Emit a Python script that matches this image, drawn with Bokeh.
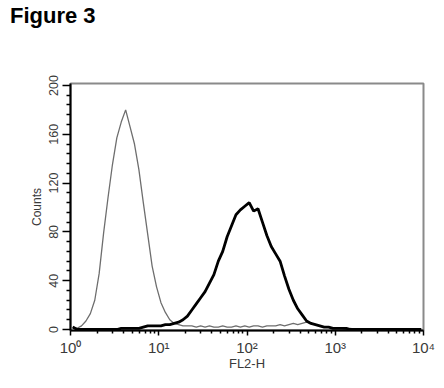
import numpy as np
from bokeh.plotting import figure
from bokeh.models import FixedTicker, Range1d, Div
from bokeh.layouts import column
from bokeh.embed import file_html
from bokeh.resources import INLINE

# Histogram channels: 80 bins, each 0.05 decade wide, from 10^0 to 10^4
bin_width_decades = 0.05
control_counts = [2, 1, 3, 7, 13, 24, 46, 79, 108, 135,
                  157, 170, 180, 166, 152, 131, 104, 78, 52, 35,
                  22, 14, 8, 5, 4, 3, 3, 3, 2, 3,
                  2, 3, 2, 2, 3, 2, 2, 3, 2, 3,
                  2, 3, 3, 2, 3, 3, 3, 4, 3, 4,
                  5, 4, 5, 6, 5, 4, 3, 2, 2, 1,
                  1, 1, 0, 1, 0, 0, 0, 0, 0, 0,
                  0, 0, 0, 0, 0, 0, 0, 0, 0, 0]
stained_counts = [2, 0, 0, 0, 0, 0, 0, 0, 0, 0,
                  0, 1, 1, 1, 1, 1, 2, 3, 3, 3,
                  3, 4, 4, 5, 6, 8, 11, 16, 21, 26,
                  31, 38, 45, 56, 64, 76, 85, 94, 98, 101,
                  104, 97, 99, 88, 77, 68, 62, 56, 44, 33,
                  24, 17, 12, 7, 5, 4, 3, 2, 2, 1,
                  1, 1, 1, 0, 0, 0, 0, 0, 0, 0,
                  0, 0, 0, 0, 0, 0, 0, 0, 0, 0]
x_major_ticks = [1, 10, 100, 1000, 10000]
x_tick_labels = ["10\u2070", "10\u00b9", "10\u00b2", "10\u00b3", "10\u2074"]
y_major_ticks = [0, 40, 80, 120, 160, 200]
y_minor_step = 8
title_text = "Figure 3"
x_label = "FL2-H"
y_label = "Counts"

n = len(control_counts)
centers = 10 ** ((np.arange(n) + 0.5) * bin_width_decades)

title_div = Div(text=title_text, width=436, height=30, margin=(0, 0, 0, 0),
                styles={"font-family": "Liberation Sans", "font-size": "22px",
                        "font-weight": "bold", "color": "black",
                        "padding-left": "10px", "padding-top": "3px",
                        "line-height": "26px", "box-sizing": "border-box"})

p = figure(width=436, height=350, output_backend="svg", toolbar_location=None,
           x_axis_type="log", x_range=Range1d(1, 10000), y_range=Range1d(-0.8, 201.6),
           min_border_left=70, min_border_right=13, min_border_top=53, min_border_bottom=50,
           margin=(0, 0, 0, 0))

p.line(centers, control_counts, line_color="#6e6e6e", line_width=1.3)
p.line(centers, stained_counts, line_color="black", line_width=2.8)

p.xgrid.visible = False
p.ygrid.visible = False
p.outline_line_color = "#8a8a8a"
p.outline_line_width = 2
p.background_fill_color = "white"
p.border_fill_color = "white"

x_minor = [m * 10 ** d for d in range(4) for m in range(2, 10)]
p.xaxis.ticker = FixedTicker(ticks=x_major_ticks, minor_ticks=x_minor)
p.xaxis.major_label_overrides = {t: s for t, s in zip(x_major_ticks, x_tick_labels)}
y_minor = [v for v in range(0, 201, y_minor_step) if v not in y_major_ticks]
p.yaxis.ticker = FixedTicker(ticks=y_major_ticks, minor_ticks=y_minor)
p.yaxis.major_label_orientation = "vertical"

for ax in (p.xaxis[0], p.yaxis[0]):
    ax.axis_line_color = "black"
    ax.axis_line_width = 2
    ax.major_tick_line_color = "black"
    ax.minor_tick_line_color = "black"
    ax.major_tick_line_width = 1.5
    ax.minor_tick_line_width = 1.5
    ax.major_tick_in = 0
    ax.minor_tick_in = 0
    ax.major_label_text_font = "Liberation Sans"
    ax.major_label_text_color = "#3a3a3a"
    ax.axis_label_text_font = "Liberation Sans"
    ax.axis_label_text_font_style = "normal"
    ax.axis_label_text_color = "#3a3a3a"

p.xaxis.major_tick_out = 5
p.xaxis.minor_tick_out = 3
p.xaxis.major_label_text_font_size = "15px"
p.xaxis.major_label_standoff = 3
p.xaxis.axis_label = x_label
p.xaxis.axis_label_text_font_size = "13px"
p.xaxis.axis_label_standoff = -3

p.yaxis.major_tick_out = 8
p.yaxis.minor_tick_out = 4
p.yaxis.major_label_text_font_size = "12.5px"
p.yaxis.major_label_standoff = 4
p.yaxis.axis_label = y_label
p.yaxis.axis_label_text_font_size = "12px"
p.yaxis.axis_label_standoff = 3

layout = column(title_div, p, spacing=0, margin=(0, 0, 0, 0))
open("out.html", "w").write(file_html(layout, INLINE))
